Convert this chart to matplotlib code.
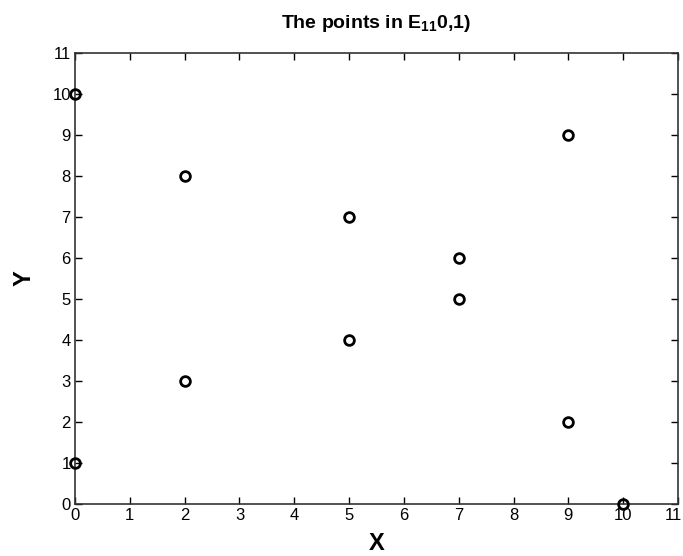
import matplotlib
matplotlib.use("Agg")
import matplotlib.pyplot as plt
import matplotlib.transforms as mtransforms

plt.rcParams['font.family'] = ['Liberation Sans', 'DejaVu Sans']
plt.rcParams['mathtext.fontset'] = 'custom'
plt.rcParams['mathtext.rm'] = 'Liberation Sans:bold'
plt.rcParams['mathtext.it'] = 'Liberation Sans:bold'
plt.rcParams['mathtext.bf'] = 'Liberation Sans:bold'

x_vals = [0, 0, 2, 2, 5, 5, 7, 7, 9, 9, 10]
y_vals = [10, 1, 8, 3, 7, 4, 6, 5, 9, 2, 0]
ticks = list(range(0, 12))

fig = plt.figure(figsize=(6.83, 5.56), dpi=100)
ax = fig.add_axes([0.1098, 0.0935, 0.8829, 0.8112])

ax.plot(x_vals, y_vals, linestyle='none', marker='o', markersize=7,
        markerfacecolor='none', markeredgecolor='black', markeredgewidth=2,
        clip_on=False, zorder=3)

ax.set_xlim(0, 11)
ax.set_ylim(0, 11)
ax.set_xticks(ticks)
ax.set_yticks(ticks)
ax.tick_params(direction='in', top=True, right=True, length=5, width=1,
               labelsize=12, pad=3)
for s in ax.spines.values():
    s.set_linewidth(1.2)
    s.set_color('#333333')

# keep the last x label inside the figure
last = ax.get_xticklabels()[-1]
last.set_transform(last.get_transform() +
                   mtransforms.ScaledTranslation(-5 / 100, 0, fig.dpi_scale_trans))

ax.set_title('The points in E$_{11}$0,1)', fontsize=14, fontweight='bold', pad=18)
ax.set_xlabel('X', fontsize=17, fontweight='bold', labelpad=6)
ax.set_ylabel('Y', fontsize=17, fontweight='bold', labelpad=12)

fig.savefig('out.png', dpi=100)
